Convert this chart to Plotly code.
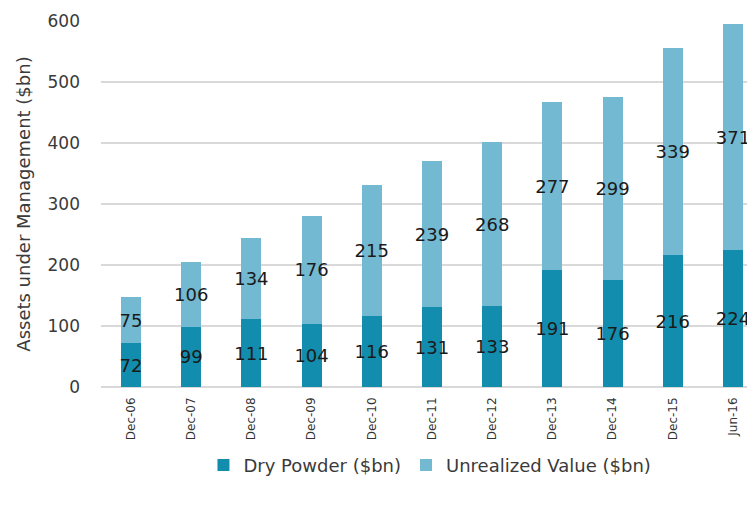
import plotly.graph_objects as go

categories = ["Dec-06", "Dec-07", "Dec-08", "Dec-09", "Dec-10", "Dec-11",
              "Dec-12", "Dec-13", "Dec-14", "Dec-15", "Jun-16"]
dry_powder = [72, 99, 111, 104, 116, 131, 133, 191, 176, 216, 224]
unrealized = [75, 106, 134, 176, 215, 239, 268, 277, 299, 339, 371]
y_ticks = [0, 100, 200, 300, 400, 500, 600]

font_family = "DejaVu Sans, sans-serif"

fig = go.Figure()
fig.add_trace(go.Bar(
    x=categories, y=dry_powder, name="Dry Powder ($bn)",
    marker=dict(color="#138DAD", line=dict(width=0)),
    text=[str(v) for v in dry_powder], textposition="inside",
    insidetextanchor="middle", constraintext="none",
    textfont=dict(color="#1a1a1a", size=18, family=font_family),
    textangle=0,
))
fig.add_trace(go.Bar(
    x=categories, y=unrealized, name="Unrealized Value ($bn)",
    marker=dict(color="#74B9D2", line=dict(width=0)),
    text=[str(v) for v in unrealized], textposition="inside",
    insidetextanchor="middle", constraintext="none",
    textfont=dict(color="#1a1a1a", size=18, family=font_family),
    textangle=0,
))

fig.update_layout(
    width=747, height=497,
    barmode="stack", bargap=0.668,
    paper_bgcolor="white", plot_bgcolor="white",
    margin=dict(l=93, r=0, t=12.5, b=117.5),
    font=dict(family=font_family, color="#3a3a3a", size=13),
    showlegend=True,
    legend=dict(orientation="h", x=0.503, xanchor="center", y=-0.214, yanchor="middle",
                font=dict(size=18, color="#3a3a3a"), traceorder="normal"),
    xaxis=dict(range=[-0.498, 10.366], tickangle=-90, showgrid=False,
               showline=False, ticks="", automargin=False,
               ticklabelstandoff=7,
               tickfont=dict(size=12, color="#333333")),
    yaxis=dict(range=[0, 600], tickvals=y_ticks, showgrid=True,
               gridcolor="#D9D9D9", gridwidth=1.5, zeroline=True,
               zerolinecolor="#D9D9D9", zerolinewidth=1.5,
               tickfont=dict(size=17, color="#3a3a3a"), ticks="",
               ticklabelstandoff=20, automargin=False,
               title=dict(text="Assets under Management ($bn)",
                          font=dict(size=18, color="#3a3a3a"), standoff=12)),
)

fig.write_html("out.html")
